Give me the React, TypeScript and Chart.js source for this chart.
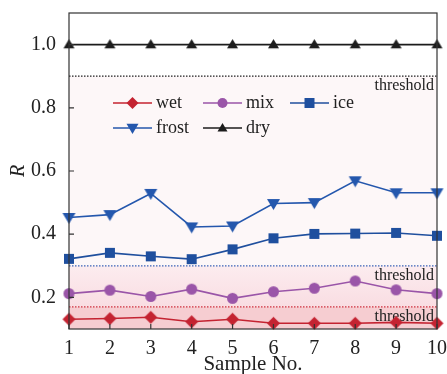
import React, { useEffect, useRef } from "react";
import { Chart, registerables } from "chart.js";
Chart.register(...registerables);

const samples = [1, 2, 3, 4, 5, 6, 7, 8, 9, 10];
const wet = [0.131, 0.133, 0.137, 0.123, 0.131, 0.118, 0.118, 0.118, 0.121, 0.118];
const mix = [0.212, 0.223, 0.203, 0.226, 0.197, 0.218, 0.229, 0.252, 0.224, 0.212];
const ice = [0.322, 0.341, 0.330, 0.321, 0.352, 0.387, 0.401, 0.402, 0.404, 0.395];
const frost = [0.453, 0.462, 0.529, 0.423, 0.426, 0.497, 0.5, 0.569, 0.531, 0.531];
const dry = [1.0, 1.0, 1.0, 1.0, 1.0, 1.0, 1.0, 1.0, 1.0, 1.0];
const thresholds = [0.9, 0.3, 0.17];
const yTicks = [0.2, 0.4, 0.6, 0.8, 1.0];

const SERIF = "'Liberation Serif', 'DejaVu Serif', serif";

const C_WET = "#c42331";
const C_MIX = "#9a55a8";
const C_ICE = "#1f4f9e";
const C_FROST = "#2457ad";
const C_DRY = "#1c1c1c";

const backgroundPlugin = {
  id: "bgzones",
  beforeDatasetsDraw(chart: any) {
    const { ctx, chartArea, scales } = chart;
    const y = scales.y;
    const l = chartArea.left, r = chartArea.right;
    const p = (v: number) => y.getPixelForValue(v);
    ctx.save();
    ctx.fillStyle = "#fdf7f8";
    ctx.fillRect(l, p(thresholds[0]), r - l, p(thresholds[1]) - p(thresholds[0]));
    const g = ctx.createLinearGradient(0, p(thresholds[1]), 0, p(thresholds[2]));
    g.addColorStop(0, "#fcecef");
    g.addColorStop(1, "#f9dde2");
    ctx.fillStyle = g;
    ctx.fillRect(l, p(thresholds[1]), r - l, p(thresholds[2]) - p(thresholds[1]));
    ctx.fillStyle = "#f6cdd1";
    ctx.fillRect(l, p(thresholds[2]), r - l, chartArea.bottom - p(thresholds[2]));
    const cols = ["#222222", "#3a63b8", "#d0303f"];
    thresholds.forEach((t, i) => {
      ctx.strokeStyle = cols[i];
      ctx.lineWidth = 1.2;
      ctx.setLineDash([1.5, 1.5]);
      ctx.beginPath();
      ctx.moveTo(l, p(t));
      ctx.lineTo(r, p(t));
      ctx.stroke();
      ctx.setLineDash([]);
      ctx.fillStyle = "#222";
      ctx.font = `16px ${SERIF}`;
      ctx.textAlign = "right";
      ctx.textBaseline = "middle";
      ctx.fillText("threshold", r - 3, p(t) + 10);
    });
    ctx.restore();
  },
  afterDraw(chart: any) {
    const { ctx, chartArea, scales } = chart;
    const { left, right, top, bottom } = chartArea;
    ctx.save();
    ctx.strokeStyle = "#333";
    ctx.lineWidth = 1.2;
    ctx.strokeRect(left, top, right - left, bottom - top);
    ctx.beginPath();
    yTicks.forEach((v) => {
      const py = scales.y.getPixelForValue(v);
      ctx.moveTo(left, py);
      ctx.lineTo(left + 5, py);
    });
    samples.forEach((s) => {
      const px = scales.x.getPixelForValue(s);
      ctx.moveTo(px, bottom);
      ctx.lineTo(px, bottom - 5);
    });
    ctx.stroke();
    const entries = [
      { label: "wet", color: C_WET, style: "rectRot", r: 6, x: 113, y: 103 },
      { label: "mix", color: C_MIX, style: "circle", r: 5, x: 203, y: 103 },
      { label: "ice", color: C_ICE, style: "rect", r: 5, x: 290, y: 103 },
      { label: "frost", color: C_FROST, style: "triangleDown", r: 6, x: 113, y: 128 },
      { label: "dry", color: C_DRY, style: "triangle", r: 5, x: 203, y: 128 },
    ];
    entries.forEach((e) => {
      ctx.strokeStyle = e.color;
      ctx.fillStyle = e.color;
      ctx.lineWidth = 1.5;
      ctx.beginPath();
      ctx.moveTo(e.x, e.y);
      ctx.lineTo(e.x + 39, e.y);
      ctx.stroke();
      drawMarker(ctx, e.style, e.x + 19.5, e.y, e.r, e.color);
      ctx.fillStyle = "#222";
      ctx.font = `18px ${SERIF}`;
      ctx.textAlign = "left";
      ctx.textBaseline = "middle";
      ctx.fillText(e.label, e.x + 43, e.y);
    });
    ctx.restore();
  },
};

function drawMarker(ctx: any, style: string, x: number, y: number, r: number, color: string) {
  ctx.fillStyle = color;
  ctx.beginPath();
  if (style === "circle") {
    ctx.arc(x, y, r, 0, Math.PI * 2);
  } else if (style === "rect") {
    ctx.rect(x - r, y - r, 2 * r, 2 * r);
  } else if (style === "rectRot") {
    ctx.moveTo(x, y - r);
    ctx.lineTo(x + r, y);
    ctx.lineTo(x, y + r);
    ctx.lineTo(x - r, y);
    ctx.closePath();
  } else if (style === "triangle") {
    ctx.moveTo(x, y - r);
    ctx.lineTo(x + r, y + r * 0.7);
    ctx.lineTo(x - r, y + r * 0.7);
    ctx.closePath();
  } else if (style === "triangleDown") {
    ctx.moveTo(x, y + r);
    ctx.lineTo(x + r, y - r * 0.7);
    ctx.lineTo(x - r, y - r * 0.7);
    ctx.closePath();
  }
  ctx.fill();
}

function markerCanvas(style: string, r: number, color: string) {
  const c = document.createElement("canvas");
  const s = Math.ceil(r * 2 + 4);
  c.width = s;
  c.height = s;
  const ctx = c.getContext("2d");
  drawMarker(ctx, style, s / 2, s / 2, r, color);
  return c;
}

export default function App() {
  const ref = useRef<HTMLCanvasElement>(null);
  useEffect(() => {
    if (!ref.current) return;
    const mk = (label: string, data: number[], color: string, style: string, r: number) => ({
      label,
      data: samples.map((s, i) => ({ x: s, y: data[i] })),
      borderColor: color,
      backgroundColor: color,
      borderWidth: 1.6,
      pointStyle: markerCanvas(style, r, color),
      pointRadius: r,
      clip: false,
    });
    const chart = new Chart(ref.current, {
      type: "line",
      data: {
        datasets: [
          mk("wet", wet, C_WET, "rectRot", 6.5),
          mk("mix", mix, C_MIX, "circle", 5.5),
          mk("ice", ice, C_ICE, "rect", 5),
          mk("frost", frost, C_FROST, "triangleDown", 6.5),
          mk("dry", dry, C_DRY, "triangle", 5.5),
        ] as any,
      },
      options: {
        animation: false,
        responsive: false,
        maintainAspectRatio: false,
        layout: { padding: { left: 0, top: 13, right: 10, bottom: 0 } },
        plugins: { legend: { display: false }, tooltip: { enabled: false } },
        scales: {
          x: {
            type: "linear",
            min: 1,
            max: 10,
            afterFit: (s: any) => { s.height = 45; },
            afterBuildTicks: (s: any) => { s.ticks = samples.map((v) => ({ value: v })); },
            grid: { display: false },
            border: { display: false },
            ticks: {
              color: "#222",
              font: { family: SERIF, size: 20 },
              padding: 0,
              maxRotation: 0,
              callback: (v: any) => String(v),
            },
            title: {
              display: true,
              text: "Sample No.",
              color: "#222",
              font: { family: SERIF, size: 21 },
              padding: { top: 0, bottom: -3 },
            },
          },
          y: {
            min: 0.1,
            max: 1.1,
            afterFit: (s: any) => { s.width = 69; s.paddingTop = 0; s.paddingBottom = 0; },
            afterBuildTicks: (s: any) => { s.ticks = yTicks.map((v) => ({ value: v })); },
            grid: { display: false },
            border: { display: false },
            ticks: {
              color: "#222",
              font: { family: SERIF, size: 20 },
              padding: 5,
              callback: (v: any) => Number(v).toFixed(1),
            },
            title: {
              display: true,
              text: "R",
              color: "#222",
              font: { family: SERIF, size: 20, style: "italic" },
              padding: { top: 7, bottom: 4 },
            },
          },
        },
      },
      plugins: [backgroundPlugin],
    } as any);
    return () => chart.destroy();
  }, []);
  return (
    <div style={{ position: "fixed", left: 0, top: 0, width: 447, height: 374, background: "#fff" }}>
      <canvas ref={ref} width={447} height={374} style={{ width: 447, height: 374 }} />
    </div>
  );
}
